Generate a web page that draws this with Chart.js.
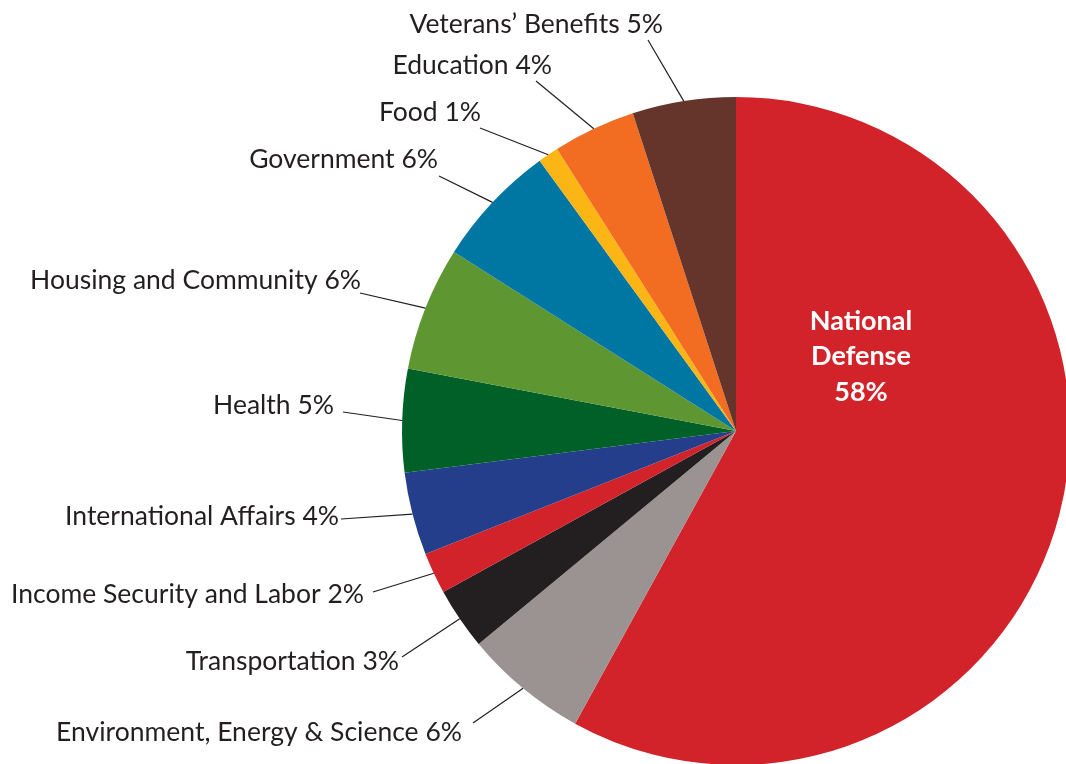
<!DOCTYPE html>
<html>
<head>
<meta charset="utf-8">
<script src="https://cdn.jsdelivr.net/npm/chart.js@4"></script>
<style>
  html, body { margin: 0; padding: 0; background: #fff; overflow: hidden; }
  #wrap { width: 1066px; height: 764px; overflow: hidden; }
</style>
</head>
<body>
<div id="wrap"><canvas id="graph" width="1072" height="768"></canvas></div>
<script>
// budget shares, clockwise from 12 o'clock
const categories = ['National Defense', 'Environment, Energy & Science', 'Transportation',
    'Income Security and Labor', 'International Affairs', 'Health', 'Housing and Community',
    'Government', 'Food', 'Education', 'Veterans\u2019 Benefits']
const shares = [58, 6, 3, 2, 4, 5, 6, 6, 1, 4, 5]
const colors = ['#D2232A', '#9A9391', '#231F20', '#D2232A', '#253E8C', '#006028',
    '#5E9732', '#0077A3', '#FBB616', '#F26D21', '#65352C']

// where each outside label goes: text right edge / baseline, and the outer end of its leader line
const labelLayout = [
    null,
    { tx: 462, ty: 741, lx: 473, ly: 723 },
    { tx: 399, ty: 670, lx: 402, ly: 657 },
    { tx: 364, ty: 603, lx: 373, ly: 592 },
    { tx: 339, ty: 525, lx: 341, ly: 519 },
    { tx: 334, ty: 414, lx: 343, ly: 412 },
    { tx: 361, ty: 289, lx: 360, ly: 293 },
    { tx: 438, ty: 168, lx: 439, ly: 176 },
    { tx: 481, ty: 121, lx: 480, ly: 128 },
    { tx: 552, ty: 74, lx: 536, ly: 81 },
    { tx: 663, ty: 33, lx: 648, ly: 40 }
]

const labelPlugin = {
    id: 'outsideLabels',
    afterDatasetsDraw(chart) {
        const ctx = chart.ctx
        const arcs = chart.getDatasetMeta(0).data
        ctx.save()
        arcs.forEach((arc, i) => {
            const p = arc.getProps(['x', 'y', 'startAngle', 'endAngle', 'outerRadius'], true)
            const mid = (p.startAngle + p.endAngle) / 2
            if (i === 0) {
                // big slice label sits inside, up and to the right of the centre
                const cx = p.x + 125
                const cy = p.y - 76
                ctx.fillStyle = '#ffffff'
                ctx.font = 'bold 27px Lato'
                ctx.textAlign = 'center'
                ctx.textBaseline = 'alphabetic'
                const lines = ['National', 'Defense', shares[0] + '%']
                lines.forEach((t, k) => ctx.fillText(t, cx, cy + (k - 1) * 35.5 + 10))
                return
            }
            const L = labelLayout[i]
            const ex = p.x + Math.cos(mid) * p.outerRadius
            const ey = p.y + Math.sin(mid) * p.outerRadius
            ctx.strokeStyle = '#231F20'
            ctx.lineWidth = 1.2
            ctx.beginPath()
            ctx.moveTo(L.lx, L.ly)
            ctx.lineTo(ex, ey)
            ctx.stroke()
            ctx.fillStyle = '#231F20'
            ctx.font = '26.5px Lato'
            ctx.textAlign = 'right'
            ctx.textBaseline = 'alphabetic'
            ctx.fillText(categories[i] + ' ' + shares[i] + '%', L.tx, L.ty)
        })
        ctx.restore()
    }
}

let graph = document.getElementById('graph').getContext('2d')

new Chart(graph, {
    type: 'pie',
    data: {
        labels: categories,
        datasets: [
            {
                data: shares,
                backgroundColor: colors,
                borderWidth: 0,
                hoverBorderWidth: 0,
                hoverOffset: 0,
                offset: 0
            }
        ]
    },
    options: {
        responsive: false,
        animation: false,
        // pie runs off the right and bottom edges, so the canvas is a little bigger than the window
        layout: { padding: { left: 402, top: 97, right: 2, bottom: 3 } },
        plugins: {
            legend: { display: false },
            tooltip: { enabled: false }
        }
    },
    plugins: [labelPlugin]
})
</script>
</body>
</html>
